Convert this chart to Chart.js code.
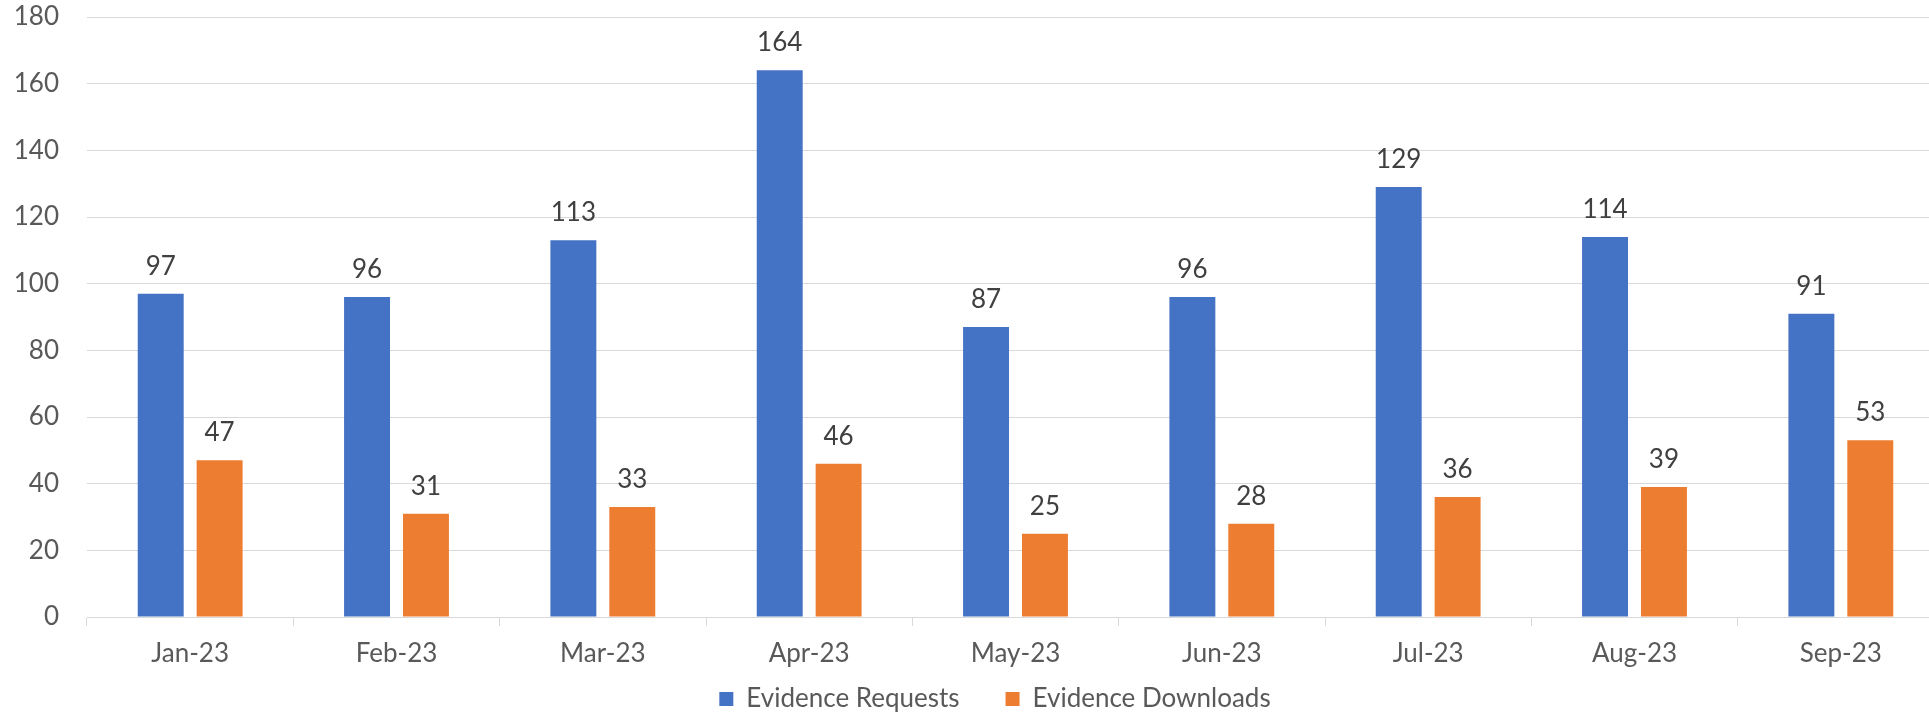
<!DOCTYPE html>
<html>
<head>
<meta charset="utf-8">
<script src="https://cdn.jsdelivr.net/npm/chart.js@4/dist/chart.umd.min.js"></script>
<style>
  html, body { margin: 0; padding: 0; background: #fff; overflow: hidden; }
  #wrap { position: relative; width: 1990px; height: 754px; }
</style>
</head>
<body>
<div id="wrap"><canvas id="chart"></canvas></div>
<script>
const months = ['Jan-23', 'Feb-23', 'Mar-23', 'Apr-23', 'May-23', 'Jun-23', 'Jul-23', 'Aug-23', 'Sep-23'];
const requests = [97, 96, 113, 164, 87, 96, 129, 114, 91];
const downloads = [47, 31, 33, 46, 25, 28, 36, 39, 53];
const yMax = 180;
const yStep = 20;

Chart.defaults.font.family = 'Lato';
Chart.defaults.font.size = 26;
Chart.defaults.color = '#595959';

// value above each bar
const valueLabels = {
  id: 'valueLabels',
  afterDatasetsDraw(chart) {
    const ctx = chart.ctx;
    ctx.save();
    ctx.font = '26px Lato';
    ctx.fillStyle = '#404040';
    ctx.textAlign = 'center';
    ctx.textBaseline = 'alphabetic';
    chart.data.datasets.forEach((ds, i) => {
      chart.getDatasetMeta(i).data.forEach((bar, j) => {
        ctx.fillText(ds.data[j], bar.x, bar.y - 19);
      });
    });
    ctx.restore();
  }
};

// pull the legend up closer to the axis labels
const legendShift = {
  id: 'legendShift',
  afterLayout(chart) {
    chart.legend.top -= 32;
    chart.legend.bottom -= 32;
  }
};

new Chart(document.getElementById('chart'), {
  type: 'bar',
  data: {
    labels: months,
    datasets: [
      { label: 'Evidence Requests', data: requests, backgroundColor: '#4472C4' },
      { label: 'Evidence Downloads', data: downloads, backgroundColor: '#ED7D31' }
    ]
  },
  options: {
    responsive: true,
    maintainAspectRatio: false,
    animation: false,
    categoryPercentage: 0.571,
    barPercentage: 0.78,
    layout: { padding: { top: 17, left: 0, right: 0, bottom: 0 } },
    plugins: {
      tooltip: { enabled: false },
      legend: {
        position: 'bottom',
        labels: { boxWidth: 14, boxHeight: 14, padding: 46, color: '#595959', font: { size: 26 } }
      }
    },
    scales: {
      x: {
        grid: { display: true, drawOnChartArea: false, drawTicks: true, tickLength: 9, color: '#d9d9d9' },
        border: { display: true, color: '#d9d9d9' },
        ticks: { padding: 12, color: '#595959' },
        afterFit(s) { s.height = 55; }
      },
      y: {
        min: 0,
        max: yMax,
        ticks: { stepSize: yStep, padding: 28, color: '#595959' },
        grid: { color: '#d9d9d9', drawTicks: false },
        border: { display: false },
        afterFit(s) { s.width = 87; s.paddingTop = 0; s.paddingBottom = 0; }
      },
      y2: {
        position: 'right',
        display: true,
        grid: { display: false },
        border: { display: false },
        ticks: { display: false },
        afterFit(s) { s.width = 46; s.paddingTop = 0; s.paddingBottom = 0; }
      }
    }
  },
  plugins: [valueLabels, legendShift]
});
</script>
</body>
</html>
